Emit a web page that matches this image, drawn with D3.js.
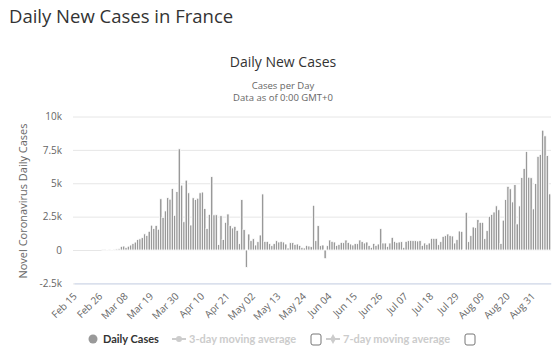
<!DOCTYPE html>
<html>
<head>
<meta charset="utf-8">
<script src="https://cdn.jsdelivr.net/npm/d3@7"></script>
<style>
  body { margin: 0; background: #fff; }
  svg { display: block; font-family: "Open Sans", sans-serif; }
</style>
</head>
<body>
<svg id="chart" width="558" height="351"></svg>
<script>
// Daily new cases by month (first reported days at the end of Feb)
const casesFeb = [null, null, null, null, null, null, null, null, null, null, null, null, 20, 19, 43];
const casesMar = [30, 61, 13, 81, 92, 276, 296, 177, 286, 372, 497, 595, 785, 838, 924, 1210,
  1097, 1404, 1861, 1617, 1847, 1559, 3838, 2446, 2929, 3922, 3809, 4611, 2599, 4376, 7578];
const casesApr = [4861, 2116, 5233, 4286, 1873, 3912, 3777, 3881, 4286, 4342, 3114, 1613, 2673, 5497, 2633,
  2641, 405, 2569, 785, 2075, 2700, 1825, 1650, 1775, 1475, 475, 3775, 1525, -1300, 1200];
const casesMay = [700, 850, 375, 625, 1125, 4200, 650, 650, 475, 325, 475, 700, 600, 650, 600, 450,
  150, 550, 550, 425, 450, 350, 200, 150, 350, 300, 250, 3350, 700, 1825, 325];
const casesJun = [375, -650, 325, 750, 650, 600, 350, 425, 575, 550, 750, 575, 450, 375, 475,
  475, 750, 625, 525, 600, 325, 200, 500, 350, 450, 1600, 525, 525, 275, 525];
const casesJul = [950, 650, 575, 600, 625, 200, 650, 700, 725, 700, 700, 675, 700, 350, 525, 425,
  525, 875, 875, 875, 400, 625, 1025, 1075, 1200, 1075, 1050, 525, 775, 1425, 1400];
const casesAug = [50, 2825, 625, 1075, 1725, 1675, 2275, 2075, 2075, 850, 1450, 2525, 2669, 2846, 3310, 3015,
  493, 2238, 3776, 4771, 4586, 3602, 4897, 1955, 3304, 5429, 6111, 7379, 5453, 5413, 3082];
const casesSep = [4982, 7017, 7157, 8975, 8550, 7071, 4203];

const xTickLabels = ["Feb 15", "Feb 26", "Mar 08", "Mar 19", "Mar 30", "Apr 10", "Apr 21", "May 02",
  "May 13", "May 24", "Jun 04", "Jun 15", "Jun 26", "Jul 07", "Jul 18", "Jul 29", "Aug 09", "Aug 20", "Aug 31"];
const yTicks = [-2500, 0, 2500, 5000, 7500, 10000];
const yTickLabels = ["-2.5k", "0", "2.5k", "5k", "7.5k", "10k"];

const dailyCases = [].concat(casesFeb, casesMar, casesApr, casesMay, casesJun, casesJul, casesAug, casesSep);
const fmt = d3.utcFormat("%b %d");
const categories = d3.utcDay.range(new Date(Date.UTC(2020, 1, 15)), new Date(Date.UTC(2020, 8, 8))).map(fmt);
const data = categories.map((c, i) => ({ date: c, value: dailyCases[i] }));

const svg = d3.select("#chart");

// page heading
svg.append("text")
  .attr("x", 9).attr("y", 23)
  .style("font-size", "18.5px").style("fill", "#333")
  .text("Daily New Cases in France");

// chart titles
svg.append("text").attr("x", 283).attr("y", 67).attr("text-anchor", "middle")
  .style("font-size", "14px").style("fill", "#333").text("Daily New Cases");
svg.append("text").attr("x", 283).attr("y", 88.5).attr("text-anchor", "middle")
  .style("font-size", "9.5px").style("fill", "#666").text("Cases per Day");
svg.append("text").attr("x", 283).attr("y", 101).attr("text-anchor", "middle")
  .style("font-size", "9.5px").style("fill", "#666").text("Data as of 0:00 GMT+0");

const x = d3.scaleBand().domain(categories).range([74, 550.8]).padding(0);
const y = d3.scaleLinear().domain([-2500, 10000]).range([283.4, 116.5]);

// y grid + labels
const yAxis = svg.append("g")
  .attr("transform", "translate(73,0)")
  .call(d3.axisLeft(y).tickValues(yTicks).tickSize(-478).tickFormat((d, i) => yTickLabels[i]));
yAxis.select(".domain").remove();
yAxis.selectAll(".tick line").attr("stroke", "#e6e6e6");
yAxis.selectAll(".tick text").attr("x", -11)
  .style("font-family", "'Open Sans', sans-serif").style("font-size", "10px").style("fill", "#666");

svg.append("text")
  .attr("transform", "translate(27,201) rotate(-90)")
  .attr("text-anchor", "middle")
  .style("font-size", "11px").style("fill", "#666")
  .text("Novel Coronavirus Daily Cases");

// cover the zero line where there is data (bar borders do this in the original)
const firstIdx = dailyCases.findIndex(v => v !== null);
svg.append("line")
  .attr("x1", x(categories[firstIdx])).attr("x2", x.range()[1])
  .attr("y1", y(0)).attr("y2", y(0))
  .attr("stroke", "#fff").attr("stroke-width", 1);

// bars
svg.append("g").selectAll("rect")
  .data(data.filter(d => d.value !== null))
  .join("rect")
  .attr("x", d => x(d.date))
  .attr("width", x.bandwidth())
  .attr("y", d => Math.min(y(d.value), y(0)))
  .attr("height", d => Math.abs(y(d.value) - y(0)))
  .attr("fill", "#999")
  .attr("stroke", "#fff")
  .attr("stroke-width", 0.8);

// x axis
const xAxis = svg.append("g")
  .attr("transform", `translate(0,${y(-2500)})`)
  .call(d3.axisBottom(x).tickValues(xTickLabels).tickSize(0));
xAxis.select(".domain").attr("stroke", "#ccd6eb");
xAxis.selectAll(".tick text")
  .attr("text-anchor", "end")
  .attr("transform", "translate(0,11) rotate(-45)")
  .attr("y", 0).attr("dy", "0.35em")
  .style("font-family", "'Open Sans', sans-serif").style("font-size", "10px").style("fill", "#666");

// legend
const legend = svg.append("g")
  .style("font-family", "Lato, sans-serif").style("font-size", "11px").style("font-weight", "bold");
legend.append("circle").attr("cx", 93).attr("cy", 339).attr("r", 4.5).attr("fill", "#999");
legend.append("text").attr("x", 103).attr("y", 343).style("fill", "#333").text("Daily Cases");

legend.append("line").attr("x1", 172).attr("x2", 186).attr("y1", 339).attr("y2", 339)
  .attr("stroke", "#ccc").attr("stroke-width", 2);
legend.append("circle").attr("cx", 179).attr("cy", 339).attr("r", 3).attr("fill", "#ccc");
legend.append("text").attr("x", 189).attr("y", 343).style("fill", "#ccc").text("3-day moving average");
legend.append("rect").attr("x", 311).attr("y", 334).attr("width", 10).attr("height", 11).attr("rx", 2)
  .attr("fill", "#fff").attr("stroke", "#777");

legend.append("line").attr("x1", 326).attr("x2", 340).attr("y1", 339).attr("y2", 339)
  .attr("stroke", "#ccc").attr("stroke-width", 2);
legend.append("path").attr("d", d3.symbol(d3.symbolDiamond, 28)()).attr("transform", "translate(333,339)")
  .attr("fill", "#ccc");
legend.append("text").attr("x", 343).attr("y", 343).style("fill", "#ccc").text("7-day moving average");
legend.append("rect").attr("x", 465).attr("y", 334).attr("width", 10).attr("height", 11).attr("rx", 2)
  .attr("fill", "#fff").attr("stroke", "#777");
</script>
</body>
</html>
